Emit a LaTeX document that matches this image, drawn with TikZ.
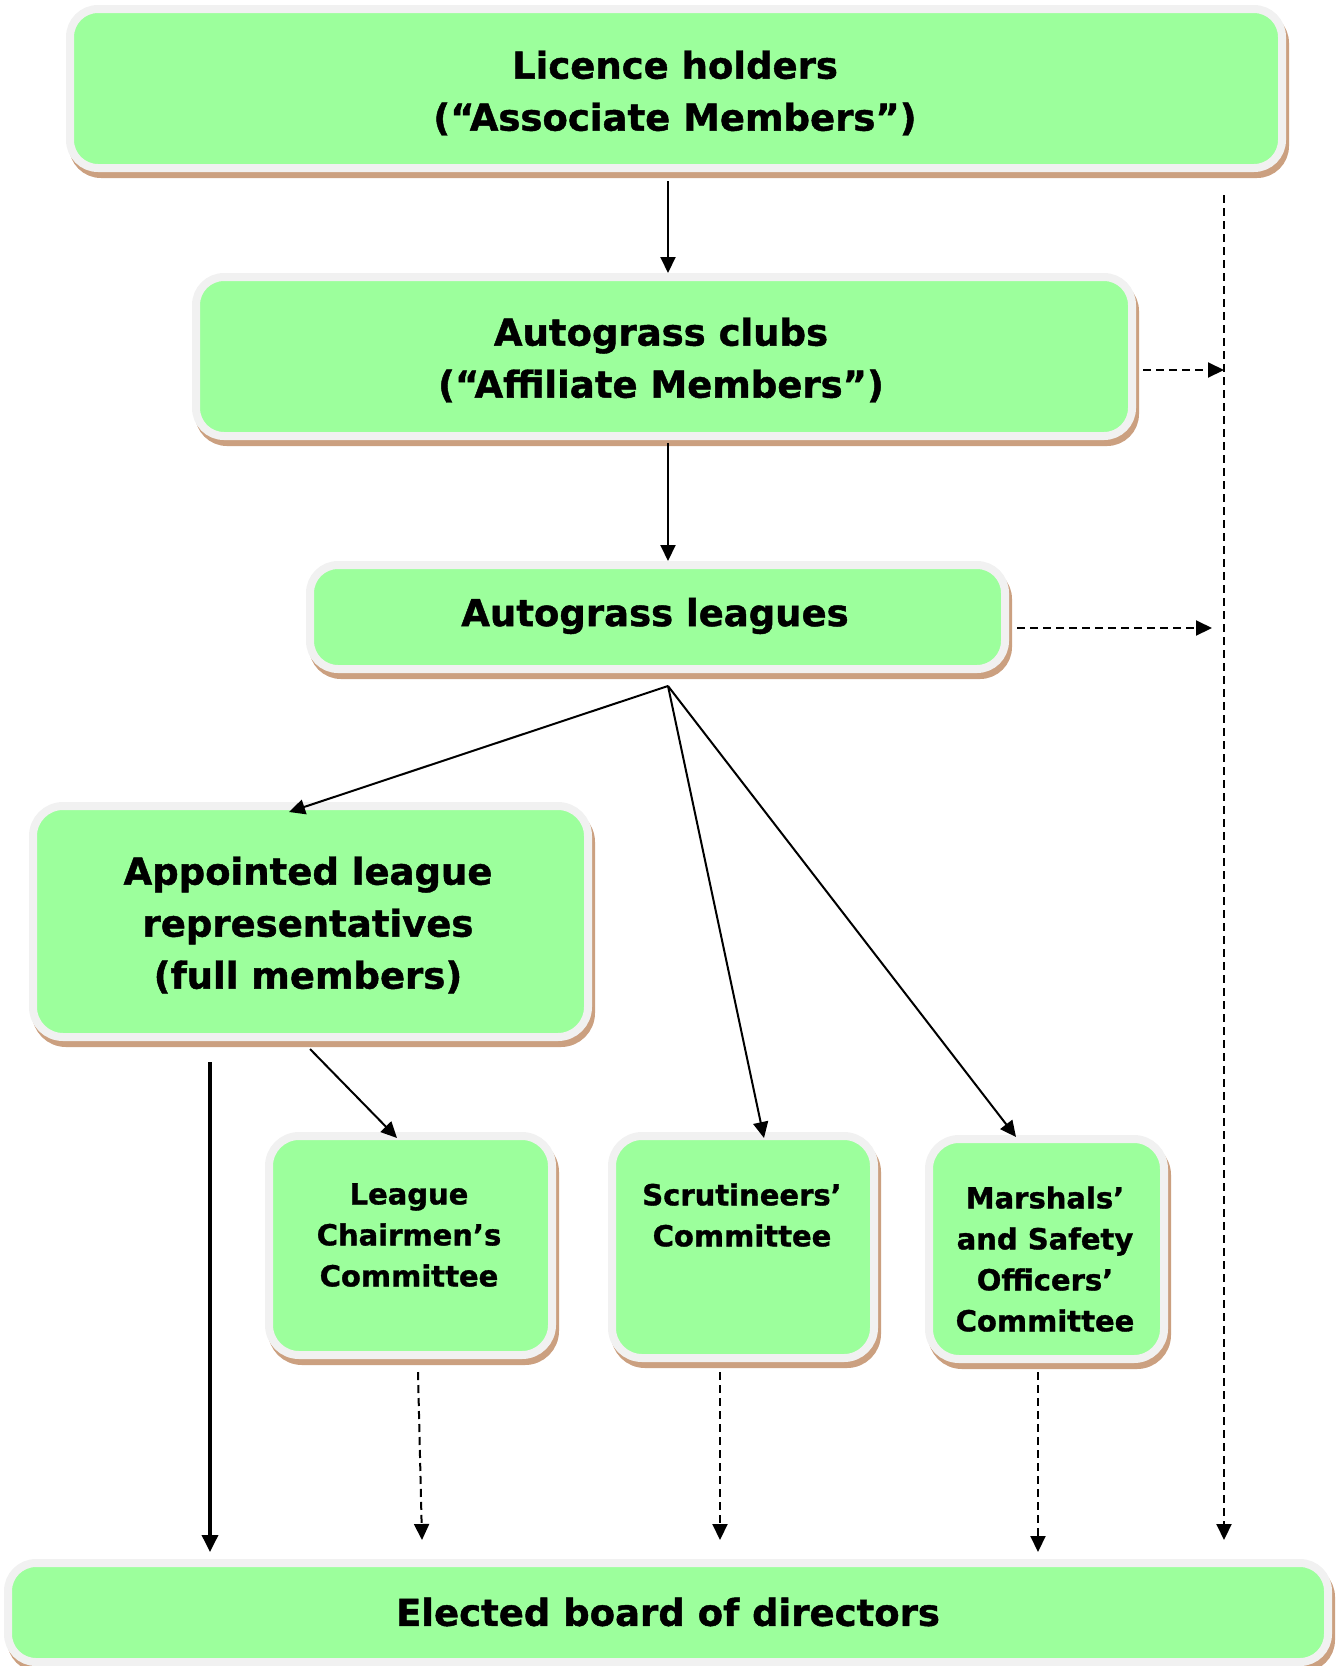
\documentclass[tikz,border=0pt]{standalone}
\usepackage{fontspec}
\setmainfont{DejaVu Sans}[BoldFeatures={FakeBold=1.2}]
\usetikzlibrary{arrows.meta,calc}
\definecolor{boxgreen}{HTML}{9CFF9C}
\definecolor{boxgrey}{HTML}{F1F1F1}
\definecolor{boxshadow}{HTML}{CBA080}
\tikzset{
  orgbox/.style={rectangle, rounded corners=#1, fill=boxgreen, draw=boxgrey,
    line width=8pt, outer sep=4pt, inner sep=0pt,
    preaction={draw=boxshadow, fill=boxshadow, transform canvas={xshift=3pt,yshift=-6pt}}},
  orgbox/.default=28pt,
  bigtext/.style={align=center, inner sep=0pt, font=\bfseries\fontsize{37}{52}\selectfont},
  smalltext/.style={align=center, inner sep=0pt, font=\bfseries\fontsize{29}{41}\selectfont},
  arr/.style={-{Triangle[length=16pt,width=15pt]}, line width=2pt},
  thickarr/.style={-{Triangle[length=17pt,width=16pt]}, line width=3.5pt},
  darr/.style={-{Triangle[length=16pt,width=15pt]}, line width=2pt, dash pattern=on 8pt off 5pt}
}
\begin{document}
\begin{tikzpicture}[x=1pt,y=-1pt]
\useasboundingbox (0,0) rectangle (1336,1666);
% boxes
\node[orgbox, minimum width=1212pt, minimum height=159pt] (b1) at (676,88.5) {};
\node[orgbox, minimum width=936pt, minimum height=159pt] (b2) at (664,356.5) {};
\node[orgbox, minimum width=695pt, minimum height=104pt] (b3) at (657.5,617) {};
\node[orgbox=30pt, minimum width=555pt, minimum height=231pt] (b4) at (310.5,921.5) {};
\node[orgbox=30pt, minimum width=283pt, minimum height=219pt] (b5) at (410.5,1245.5) {};
\node[orgbox=30pt, minimum width=262pt, minimum height=222pt] (b6) at (743,1247) {};
\node[orgbox=30pt, minimum width=235pt, minimum height=220pt] (b7) at (1046.5,1249) {};
\node[orgbox, minimum width=1320pt, minimum height=99pt] (b8) at (668,1612.5) {};
% texts
\node[bigtext] (t1) at (675,93) {Licence holders\\(“Associate Members”)};
\node[bigtext] (t2) at (661,360) {Autograss clubs\\(“Affiliate Members”)};
\node[bigtext] (t3) at (655,616) {Autograss leagues};
\node[bigtext] (t4) at (308,925) {Appointed league\\representatives\\(full members)};
\node[smalltext] (t5) at (409,1235) {League\\Chairmen’s\\Committee};
\node[smalltext] (t6) at (742,1215) {Scrutineers’\\Committee};
\node[smalltext] (t7) at (1045,1259) {Marshals’\\and Safety\\Officers’\\Committee};
\node[bigtext] (t8) at (668,1612) {Elected board of directors};
% connectors
\coordinate (fan) at (668,686);
\draw[arr, shorten <=9pt] (b1.south -| fan) -- (b2.north -| fan);
\draw[arr, shorten <=3pt] (b2.south -| fan) -- (b3.north -| fan);
\draw[arr] (fan) -- ($(b4.north)+(-21.5,10)$);
\draw[arr] (fan) -- ($(b6.north)+(21,6)$);
\draw[arr] (fan) -- ($(b7.north)+(-30.5,2)$);
\draw[arr] ($(b4.south)+(-0.5,8)$) -- ($(b5.north)+(-13.5,6)$);
\draw[thickarr] ($(b4.south)+(-100.5,21)$) -- ($(b8.north)+(-458,-7)$);
\draw[darr] ($(b5.south)+(7.5,13)$) -- ($(b8.north)+(-246,-19)$);
\draw[darr] ($(b6.south)+(-23,10)$) -- ($(b8.north)+(52,-19)$);
\draw[darr] ($(b7.south)+(-8.5,9)$) -- ($(b8.north)+(370,-7)$);
\draw[darr] ($(b1.south)+(548,23)$) -- ($(b8.north)+(556,-19)$);
\draw[darr] ($(b2.east)+(7,13.5)$) -- ($(b2.east)+(88,13.5)$);
\draw[darr] ($(b3.east)+(8,11)$) -- ($(b3.east)+(203,11)$);
\end{tikzpicture}
\end{document}
